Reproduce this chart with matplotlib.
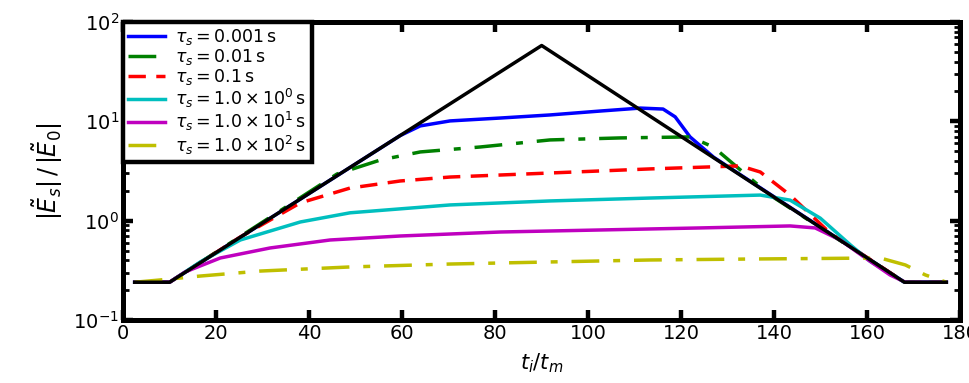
import matplotlib
matplotlib.use("Agg")
import matplotlib.pyplot as plt
from matplotlib.ticker import LogLocator, NullFormatter

# Reference envelope (no damping)
x_ref = [2.5, 10.0, 90.0, 168.0, 177.0]
y_ref = [0.24, 0.24, 58.0, 0.24, 0.24]

# Damped responses, one per damping time
x_a = [2.5, 10.0, 59.6, 63.9, 70.3, 81.1, 91.8, 102.6, 111.2, 116.1, 118.7, 121.9, 127.0, 168.0, 177.0]
y_a = [0.24, 0.24, 7.2, 9.0, 10.1, 10.8, 11.6, 12.7, 13.6, 13.3, 11.1, 6.97, 4.34, 0.24, 0.24]

x_b = [2.5, 10.0, 46.0, 55.3, 63.9, 76.8, 91.8, 106.9, 121.9, 126.9, 139.1, 168.0, 177.0]
y_b = [0.24, 0.24, 2.95, 4.08, 4.92, 5.52, 6.50, 6.81, 6.97, 5.52, 1.81, 0.24, 0.24]

x_c = [2.5, 10.0, 25.0, 38.1, 48.8, 59.6, 70.3, 91.8, 113.3, 132.7, 137.0, 143.4, 152.0, 168.0, 177.0]
y_c = [0.24, 0.24, 0.676, 1.51, 2.13, 2.51, 2.75, 3.02, 3.32, 3.56, 3.09, 1.81, 0.75, 0.24, 0.24]

x_d = [2.5, 10.0, 16.6, 25.2, 38.1, 48.8, 70.3, 91.8, 113.3, 137.0, 143.4, 149.9, 156.4, 160.6, 168.0, 177.0]
y_d = [0.24, 0.24, 0.384, 0.639, 0.97, 1.20, 1.44, 1.58, 1.69, 1.81, 1.61, 1.06, 0.569, 0.39, 0.24, 0.24]

x_e = [2.5, 10.0, 13.3, 20.9, 31.6, 44.5, 59.6, 81.1, 102.6, 124.1, 143.4, 148.8, 154.2, 159.6, 164.9, 168.2, 177.0]
y_e = [0.24, 0.24, 0.304, 0.421, 0.531, 0.639, 0.701, 0.769, 0.806, 0.845, 0.885, 0.845, 0.639, 0.421, 0.284, 0.24, 0.24]

x_f = [2.5, 8.0, 16.6, 29.5, 48.8, 70.3, 91.8, 113.3, 134.8, 162.8, 168.2, 172.5, 177.0]
y_f = [0.24, 0.253, 0.277, 0.311, 0.342, 0.366, 0.384, 0.402, 0.411, 0.421, 0.358, 0.284, 0.24]

labels = [r"$\tau_s = 0.001\,$s", r"$\tau_s = 0.01\,$s", r"$\tau_s = 0.1\,$s",
          r"$\tau_s = 1.0\times10^{0}\,$s", r"$\tau_s = 1.0\times10^{1}\,$s",
          r"$\tau_s = 1.0\times10^{2}\,$s"]

x_ticks = [0, 20, 40, 60, 80, 100, 120, 140, 160, 180]

fig = plt.figure(figsize=(9.69, 3.83), dpi=100)
ax = fig.add_axes([0.127, 0.1645, 0.864, 0.778])

lw = 2.5
ax.plot(x_ref, y_ref, color="k", lw=lw, zorder=5)
ax.plot(x_a, y_a, color="b", lw=lw, ls="-", label=labels[0])
ax.plot(x_b, y_b, color="g", lw=lw, ls=(0, (8, 4, 2, 4)), label=labels[1])
ax.plot(x_c, y_c, color="r", lw=lw, ls=(0, (5, 3)), label=labels[2])
ax.plot(x_d, y_d, color="c", lw=lw, ls="-", label=labels[3])
ax.plot(x_e, y_e, color="m", lw=lw, ls="-", label=labels[4])
ax.plot(x_f, y_f, color="y", lw=lw, ls=(0, (8, 4, 2, 4)), label=labels[5])

ax.set_yscale("log")
ax.set_xlim(0, 180)
ax.set_ylim(0.1, 100)
ax.set_xticks(x_ticks)
ax.yaxis.set_major_locator(LogLocator(base=10, numticks=10))
ax.yaxis.set_minor_locator(LogLocator(base=10, subs=range(2, 10), numticks=20))
ax.yaxis.set_minor_formatter(NullFormatter())

for s in ax.spines.values():
    s.set_linewidth(3.6)
ax.tick_params(which="major", direction="in", length=7, width=3.2,
               top=True, right=True, labelsize=14, pad=3)
ax.tick_params(which="minor", direction="in", length=4, width=2.0,
               top=False, right=True, left=True)

ax.set_xlabel(r"$t_i/t_m$", fontsize=15, labelpad=6)
ax.set_ylabel(r"$|\tilde{E}_s|\,/\,|\tilde{E}_0|$", fontsize=17, labelpad=6)

leg = ax.legend(loc="upper left", fontsize=12.5, frameon=True, fancybox=False,
                borderaxespad=0.0, handlelength=2.1, labelspacing=0.0,
                borderpad=0.3, handletextpad=0.6)
leg.get_frame().set_edgecolor("k")
leg.get_frame().set_linewidth(3.2)
leg.get_frame().set_facecolor("white")
leg.get_frame().set_alpha(1.0)

fig.savefig("out.png", dpi=100)
